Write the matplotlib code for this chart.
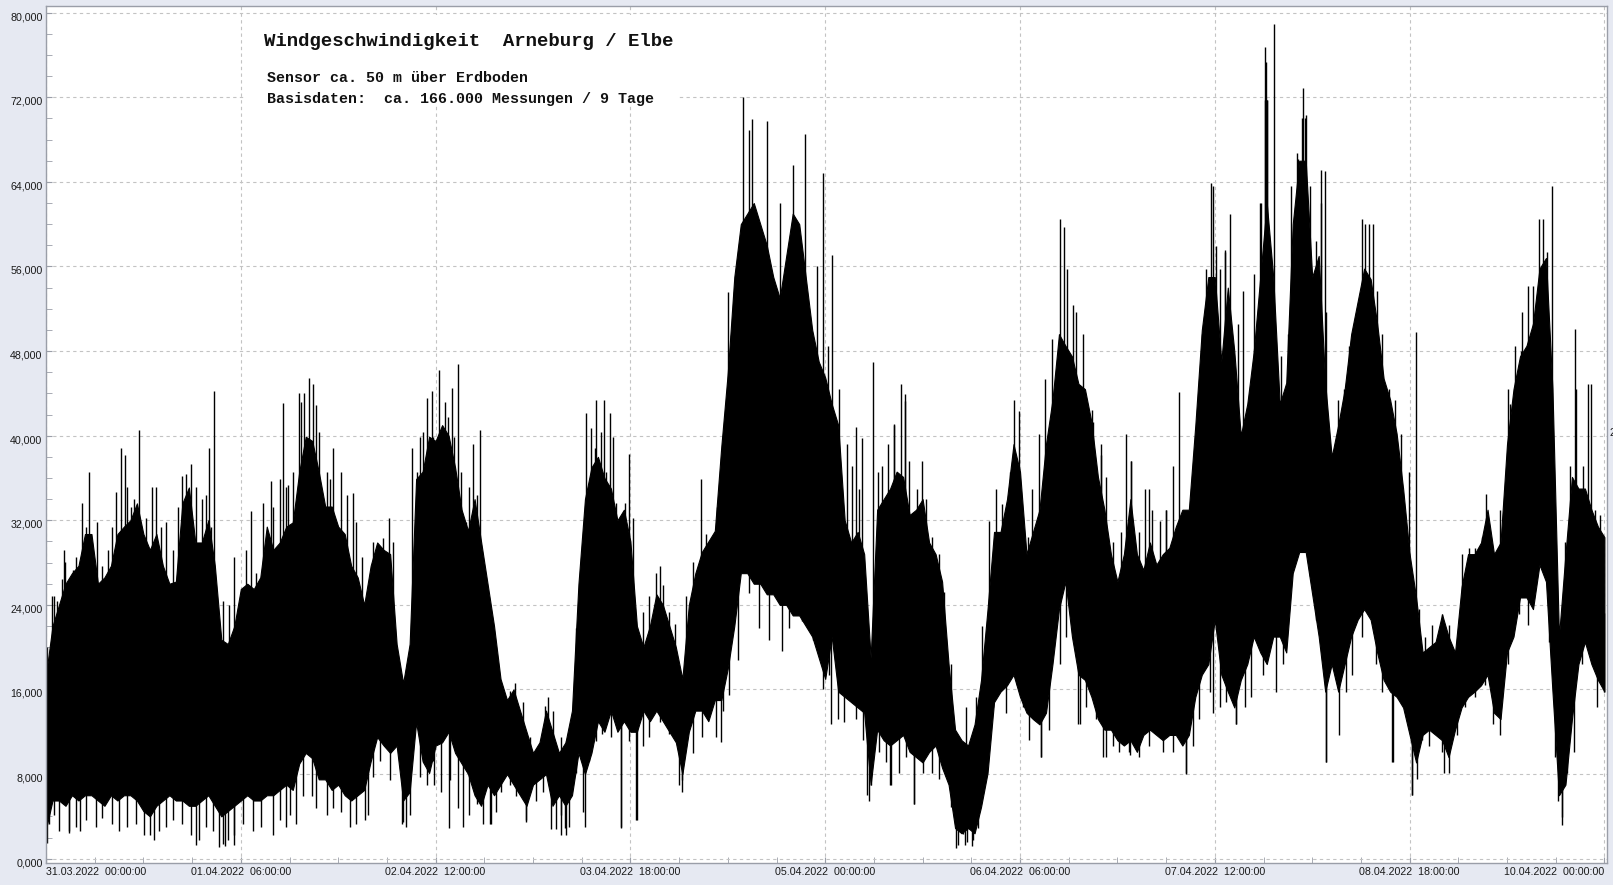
import matplotlib
matplotlib.use("Agg")
import matplotlib.pyplot as plt
import matplotlib.dates as mdates
import matplotlib.ticker as mticker
from matplotlib.patches import Rectangle
from matplotlib.transforms import IdentityTransform, ScaledTranslation
from datetime import datetime, timedelta
import numpy as np

# ---------------- data ----------------
start_time = datetime(2022, 3, 31, 0, 0, 0)
hours = list(range(0, 241))          # hourly envelope samples

# upper edge of the dense black band
top_env = [
    17400, 22000, 24000, 26000, 27000, 27700, 30700, 30700, 26000, 26600, 27700,
    30700, 31400, 32000, 33600, 30700, 29200, 30700, 27700, 26000, 26200,
    33600, 35100, 29900, 29900, 32000, 27700, 20700, 20300, 22000, 25500,
    26000, 25500, 26600, 31400, 29200, 29900, 31400, 31800, 36600, 39900,
    39500, 36600, 33300, 33300, 31400, 30700, 27700, 26600, 24000, 27700,
    29900, 29200, 28800, 20300, 16600, 20300, 35900, 36600, 39900, 39500,
    41000, 40000, 37000, 33000, 31000, 34000, 30000, 26000, 22000, 17000,
    15000, 16000, 14000, 12000, 10000, 11000, 14000, 12000, 10000, 11000,
    14000, 26000, 34000, 37000, 38000, 36000, 35000, 32000, 33000, 30000,
    22000, 20000, 22000, 25000, 24000, 22000, 20000, 17000, 24000, 27000,
    29000, 30000, 31000, 39000, 46000, 55000, 60000, 61000, 62000, 60000,
    58000, 55000, 53000, 57000, 61000, 60000, 55000, 50000, 47000, 45500,
    43000, 41000, 32000, 29900, 30900, 28800, 19000, 33000, 34000, 35000,
    36600, 36100, 32500, 33000, 34000, 29900, 28800, 26200, 18400, 12200,
    11200, 10700, 12700, 16900, 23600, 30900, 30900, 34000, 39200, 36600,
    28800, 30900, 33000, 39200, 43400, 49600, 48500, 47500, 44900, 44400,
    41300, 36100, 33000, 28800, 26200, 28800, 34000, 28800, 27300, 29900,
    27800, 28800, 29400, 31400, 33000, 33000, 41000, 50000, 55000, 55000,
    47000, 54000, 48000, 40000, 43000, 48000, 55000, 62000, 55000, 43000,
    45000, 60000, 66000, 66000, 55000, 57000, 45000, 38000, 41000, 44400,
    49600, 52700, 55800, 54800, 50600, 45400, 43400, 40200, 35000, 28800,
    24700, 19500, 20000, 20500, 23100, 21000, 19500, 25700, 28800, 28800,
    29900, 33000, 28800, 29900, 39200, 44400, 47500, 48500, 50600, 55800,
    56800, 44400, 21000, 28800, 36100, 35000, 35000, 33000, 31400, 30400,
]

# lower edge of the dense black band
bottom_env = [
    2800, 5500, 5500, 5000, 6000, 5500, 6000, 6000, 5500, 5000, 6000,
    5500, 6000, 6000, 5500, 4500, 4000, 5000, 5500, 6000, 5500,
    5500, 5000, 5000, 5500, 6000, 5000, 4000, 4500, 5000, 5500,
    6000, 5500, 5500, 6000, 6000, 6500, 7000, 6500, 9000, 10000,
    9500, 7500, 7500, 6500, 7000, 6000, 5500, 6000, 6500, 9200,
    11500, 10700, 10000, 10700, 5500, 6300, 12900, 9200, 8100, 10700,
    11000, 12000, 10000, 9000, 8000, 6000, 5000, 7000, 6000, 7000,
    8000, 7000, 6000, 5000, 7000, 7500, 8000, 5000, 6000, 5000,
    6000, 10000, 8000, 10000, 13000, 12000, 14000, 12000, 13000, 12000,
    12000, 14000, 13000, 14000, 13000, 12000, 11000, 8000, 12000, 14000,
    14000, 13000, 15000, 15000, 18000, 22000, 27000, 27000, 26000, 26000,
    25000, 25000, 24000, 24000, 23000, 23000, 22000, 21000, 19000, 17000,
    21000, 15800, 15300, 14800, 14300, 13800, 7000, 12200, 11200, 10700,
    11200, 11700, 10100, 9600, 9100, 10100, 10700, 8600, 7000, 2900,
    2400, 2900, 2400, 4900, 8100, 14800, 15800, 16400, 17400, 15300,
    13800, 13200, 12700, 13800, 18400, 23600, 26200, 21000, 17400, 16900,
    15300, 13200, 12200, 12200, 11200, 10700, 11200, 10100, 11700, 12200,
    11700, 11200, 11700, 11700, 10700, 11700, 15300, 17400, 18400, 22600,
    17400, 15800, 14300, 16900, 18400, 21000, 19500, 18400, 21000, 21000,
    19500, 27000, 29000, 29000, 25000, 21000, 15800, 18400, 15800, 18400,
    21000, 22600, 23600, 22600, 19500, 16900, 15800, 15300, 14300, 11700,
    9100, 11700, 12200, 11700, 11200, 9600, 12200, 14300, 15300, 15800,
    16400, 17400, 13800, 13200, 19500, 21000, 24700, 24700, 23600, 27800,
    26200, 15800, 6000, 7000, 13200, 18400, 20500, 18400, 16900, 15800,
]

# tall isolated upward spikes (hour, value)
spike_up_hours = [
    1.25, 2.8, 5.5, 6.6, 11.5, 12.2, 14.3, 16.9, 21.6, 22.3,
    25.1, 25.9, 31.6, 34.6, 36.5, 37.3, 39.0, 39.8, 40.5, 41.1,
    44.2, 47.3, 52.9, 57.6, 58.6, 59.4, 60.6, 62.6, 63.4, 65.7,
    66.8, 77.3, 83.2, 84.7, 86.0, 86.8, 89.8, 94.5, 100.9, 105.0,
    107.4, 108.3, 108.8, 111.0, 113.0, 115.1, 116.9, 118.8, 119.7, 121.0,
    124.7, 125.7, 127.4, 130.6, 131.6, 132.3, 134.9, 144.2, 149.0, 153.9,
    156.1, 156.8, 158.1, 161.1, 162.5, 166.3, 167.1, 169.9, 172.5, 174.5,
    179.4, 179.7, 181.5, 182.4, 187.1, 187.7, 187.9, 188.1, 189.1, 192.6,
    193.6, 196.3, 196.9, 202.7, 203.7, 211.0, 221.7, 225.5, 227.2, 229.0,
    230.0, 231.9, 235.5, 237.9, 187.8, 188.0, 193.4, 193.9,
]
spike_up_values = [
    24800, 29200, 33600, 36600, 38800, 38200, 40500, 35100, 36400, 37300,
    38800, 44200, 32900, 35700, 43100, 35300, 44000, 44000, 45500, 44900,
    38800, 34600, 32200, 39900, 43600, 44200, 46200, 44500, 46800, 39200,
    40500, 15300, 42100, 43400, 43400, 42100, 38300, 27700, 35900, 53600,
    72000, 68900, 69900, 69800, 62000, 65600, 68500, 56000, 64800, 57100,
    40800, 39800, 47000, 41100, 44900, 43300, 37600, 22000, 43400, 45400,
    60500, 59700, 52400, 42400, 39200, 40200, 37600, 35000, 33000, 44100,
    63900, 63600, 57600, 61000, 62000, 76800, 75300, 71700, 78900, 66700,
    72900, 62000, 65000, 60500, 60000, 49800, 34500, 43000, 48000, 54200,
    60500, 63600, 50100, 44900, 71700, 71700, 70000, 70000,
]

# smaller upward spikes along the upper edge
minor_up_hours = [
    0.2, 0.9, 1.7, 2.5, 3.0, 4.1, 4.6, 5.2, 6.1, 7.1,
    7.9, 8.7, 9.5, 10.2, 10.8, 12.4, 13.1, 13.6, 15.4, 16.4,
    17.7, 18.5, 19.5, 20.3, 21.0, 23.1, 24.1, 24.6, 25.4, 27.2,
    28.2, 29.0, 30.8, 32.4, 33.4, 34.9, 36.0, 37.0, 38.0, 39.3,
    41.6, 42.1, 43.2, 43.7, 45.5, 46.3, 47.8, 48.6, 50.4, 51.9,
    53.5, 56.3, 57.1, 58.1, 60.2,
    59.6, 60.1, 61.4, 61.9, 62.9, 63.9, 64.7, 65.2, 66.3, 67.5,
    68.6, 69.6, 71.4, 72.2, 73.4, 74.5, 75.7, 76.8, 78.1, 79.3,
    80.1, 81.6, 82.4, 83.9, 84.5, 85.5, 86.3, 87.3, 87.8, 89.1,
    90.4, 91.9, 92.9, 94.0, 95.0, 96.0, 96.8, 98.6, 99.6, 100.1,
    101.6, 102.7, 103.4, 104.2, 105.5, 106.0,
    120.4, 122.2, 123.4, 124.2, 125.2, 128.1, 128.8, 129.6, 130.6, 132.3,
    132.9, 134.2, 135.5, 136.5, 137.6, 138.3, 139.4, 141.7, 143.2, 145.3,
    146.3, 147.3, 148.4, 149.8, 151.2, 151.9, 153.0, 155.0, 157.3, 158.6,
    159.7, 161.2, 162.5, 163.2, 164.3, 165.6, 167.1, 168.4, 169.2, 170.4,
    171.5, 172.5, 173.5, 175.6, 177.1, 178.1, 178.7, 180.2,
    180.8, 181.5, 183.1, 183.6, 184.3, 185.4, 186.1, 186.9, 189.5, 190.2,
    191.2, 191.8, 192.8, 194.1, 194.6, 195.6, 196.4, 197.1, 198.1, 198.9,
    199.9, 200.7, 201.7, 203.2, 204.3, 205.0, 205.8, 206.8, 207.8, 208.6,
    209.9, 211.4, 212.4, 213.5, 215.0, 216.0, 217.0, 218.1, 219.1, 220.1,
    221.1, 223.2, 223.9, 225.2, 226.2, 227.3, 228.3, 229.8, 230.6, 231.1,
    233.9, 234.7, 235.7, 236.7, 237.5, 238.5, 239.3,
]
minor_up_values = [
    20000, 24800, 24400, 26400, 28100, 27300, 28500, 27000, 31400, 28800,
    31800, 27700, 29200, 31400, 34700, 35100, 33300, 34000, 32200, 35100,
    31400, 31800, 29200, 33300, 36200, 35100, 34000, 34400, 31400, 24400,
    24000, 28500, 29200, 27000, 33600, 33300, 35900, 35100, 36600, 43200,
    42900, 40300, 36600, 35900, 36600, 34400, 31800, 28500, 29900, 30300,
    29900, 38800, 36600, 40300, 39500,
    39900, 37300, 43200, 41800, 39900, 36600, 31800, 35100, 34400, 24800,
    22200, 18100, 15900, 16600, 14800, 11500, 10000, 14400, 14000, 11500,
    11100, 21800, 28100, 40700, 38800, 40300, 36600, 39900, 33600, 33600,
    32200, 23300, 24800, 27000, 25900, 23300, 22200, 24800, 28100, 26200,
    30700, 30300, 33300, 38800, 49500, 53600,
    48500, 44400, 39200, 37100, 35000, 36600, 37100, 39200, 41000, 43900,
    37600, 35000, 34000, 30400, 28800, 25200, 18400, 14300, 15300, 31900,
    35000, 33500, 36600, 42300, 30400, 35000, 40200, 49100, 55800, 51700,
    49600, 41300, 38200, 36100, 29900, 30900, 37600, 30900, 35000, 33000,
    31900, 33000, 37100, 30900, 36600, 49600, 55800, 57900,
    55800, 57400, 44400, 50600, 53700, 44400, 55300, 62000, 47500, 47500,
    49600, 63600, 66200, 70300, 63600, 58400, 65100, 51700, 38200, 43400,
    44400, 48500, 50600, 60000, 60000, 53700, 49600, 44400, 43400, 40200,
    36600, 23600, 21000, 22100, 23100, 22100, 19000, 28800, 29400, 29400,
    30400, 28800, 33000, 44400, 48500, 51700, 54200, 47500, 60500, 57400,
    29900, 37100, 44400, 37100, 44900, 33000, 32500,
]

# deep downward spikes (hour, value)
spike_down_hours = [
    0.1, 3.5, 16.0, 23.1, 26.7, 27.5, 29.0, 37.0, 55.0, 62.1,
    68.4, 73.9, 77.8, 79.3, 80.0, 83.0, 88.6, 91.0, 98.0, 104.0,
    120.9, 126.7, 130.0, 133.6, 140.1, 141.5, 142.6, 153.2, 159.3, 162.8,
    167.0, 175.5, 183.3, 197.1, 207.5, 210.3, 215.3, 233.5,
]
spike_down_values = [
    1500, 2600, 2200, 1300, 1100, 1200, 1300, 3000, 3500, 2900,
    3300, 3500, 2800, 2200, 2900, 3000, 2900, 3700, 7400, 11000,
    12700, 5500, 7000, 5200, 1000, 1300, 1200, 9600, 12700, 9600,
    9800, 8000, 12700, 9100, 9100, 6000, 8100, 3200,
]

# smaller downward spikes along the lower edge
minor_down_hours = [
    0.5, 1.2, 2.0, 3.5, 4.6, 5.3, 6.1, 7.7, 8.7, 10.2,
    11.3, 12.5, 13.8, 15.1, 16.7, 17.4, 18.5, 19.5, 21.0, 22.3,
    23.6, 24.6, 25.7, 27.2, 28.0, 29.0, 30.3, 31.9, 33.1, 34.9,
    36.0, 37.5, 38.5, 39.6, 40.9, 41.6, 43.2, 44.2, 45.5, 46.8,
    47.8, 49.1, 49.6, 50.4, 51.4, 53.0, 54.8, 55.5, 56.0, 57.6,
    58.6, 59.7,
    59.6, 60.9, 62.2, 63.4, 64.2, 65.2, 66.3, 67.3, 68.6, 69.3,
    70.1, 71.4, 72.4, 73.9, 75.5, 76.5, 78.6, 79.3, 80.1, 80.6,
    81.6, 82.7, 83.7, 84.7, 85.7, 87.0, 88.6, 89.8, 90.9, 91.9,
    92.9, 94.5, 96.0, 97.5, 98.0, 99.6, 101.1, 103.2, 104.2, 105.2,
    106.5, 108.3, 109.8, 111.4, 113.4, 114.5, 116.5, 118.1, 119.1, 119.6,
    120.6, 121.9, 122.9, 124.7, 125.8, 126.5, 127.0, 128.3, 129.3, 130.1,
    131.4, 132.4, 133.7, 135.0, 136.4, 137.6, 138.6, 139.4, 140.4, 141.2,
    141.9, 142.7, 143.5, 144.2, 145.0, 145.8, 147.8, 149.6, 150.4, 151.4,
    153.2, 154.5, 156.1, 157.1, 158.9, 160.2, 161.7, 163.2, 164.3, 165.3,
    166.8, 168.4, 169.9, 172.0, 173.5, 175.5, 176.6, 177.6, 179.2,
    179.7, 180.8, 181.8, 183.3, 184.6, 185.6, 187.4, 188.4, 189.5, 190.5,
    191.5, 193.0, 194.6, 195.6, 196.6, 197.1, 198.1, 199.2, 200.2, 201.2,
    202.7, 203.8, 204.8, 205.8, 207.3, 208.4, 209.4, 210.4, 211.2, 211.9,
    213.0, 214.0, 215.0, 216.0, 217.3, 218.6, 220.1, 221.6, 222.9, 223.9,
    225.2, 226.8, 228.3, 229.8, 231.4, 232.4, 232.9, 233.4, 234.2, 235.3,
    236.6, 237.9, 238.9, 239.9,
]
minor_down_values = [
    3300, 4100, 2600, 2400, 3000, 2600, 3700, 3000, 3800, 3300,
    2600, 3000, 3300, 2200, 1800, 2600, 3000, 3700, 3300, 2200,
    1800, 3000, 2600, 1400, 1800, 2200, 3300, 2600, 3000, 2200,
    3700, 4100, 3300, 5900, 5900, 4800, 4100, 4800, 4400, 3000,
    3300, 3700, 4100, 7700, 9200, 7400, 3300, 3000, 4100, 7700,
    7000, 7000,
    9200, 6300, 7400, 4800, 3000, 4100, 5200, 3300, 3300, 4400,
    6300, 7000, 5900, 3700, 5500, 6300, 2800, 4100, 2200, 3000,
    8100, 4400, 9200, 11100, 11800, 11500, 3000, 11100, 3700, 10700,
    11500, 12900, 11800, 7000, 6300, 10000, 11500, 11500, 14000, 15500,
    18800, 25100, 21800, 20700, 19600, 21800, 22500, 20700, 20300, 16000,
    17400, 13200, 12900, 13200, 11200, 6000, 7000, 10100, 9100, 7000,
    8100, 9600, 5200, 8100, 8100, 7500, 8100, 4900, 1300, 2300,
    1600, 1800, 2900, 7000, 11700, 14300, 13800, 16400, 14300, 11200,
    9600, 12200, 18400, 21000, 12700, 14300, 13200, 9600, 10700, 10100,
    10100, 9600, 10700, 10100, 10100, 8100, 10700, 13200, 15800,
    13800, 14300, 14800, 12700, 14300, 15300, 17400, 21000, 15800, 18400,
    23600, 30900, 26700, 22600, 19500, 9100, 18400, 11700, 15800, 17400,
    21000, 24700, 18400, 15800, 9100, 15300, 14300, 6000, 7500, 11200,
    10700, 12200, 10100, 8100, 11700, 14300, 15300, 16400, 12700, 11700,
    18400, 23100, 22100, 27800, 20500, 9600, 5500, 3900, 8100, 10100,
    18400, 20500, 14300, 15800,
]

x_tick_hours = [0, 30, 60, 90, 120, 150, 180, 210, 240]
y_ticks = [0, 8000, 16000, 24000, 32000, 40000, 48000, 56000, 64000, 72000, 80000]

title = "Windgeschwindigkeit  Arneburg / Elbe"
subtitle1 = "Sensor ca. 50 m über Erdboden"
subtitle2 = "Basisdaten:  ca. 166.000 Messungen / 9 Tage"

# ---------------- drawing ----------------
W, H = 1613, 885
fig = plt.figure(figsize=(W / 100, H / 100), dpi=100, facecolor="#e6e9f2")
ax = fig.add_axes([46 / W, (H - 862.7) / H, (1607 - 46) / W, (862.7 - 6) / H])
ax.set_facecolor("white")
ax.set_axisbelow(True)


def to_num(hs):
    return mdates.date2num([start_time + timedelta(hours=float(h)) for h in hs])


xd = to_num(hours)
top_a = np.array(top_env, dtype=float)
bot_a = np.array(bottom_env, dtype=float)
ax.fill_between(xd, bot_a, top_a, color="black", linewidth=0.8, zorder=2)
mid = (top_a + bot_a) / 2

up_h = spike_up_hours + minor_up_hours
up_v = spike_up_values + minor_up_values
ax.vlines(to_num(up_h), np.interp(up_h, hours, mid), up_v,
          color="black", linewidth=1.0, zorder=2)
dn_h = spike_down_hours + minor_down_hours
dn_v = spike_down_values + minor_down_values
ax.vlines(to_num(dn_h), dn_v, np.interp(dn_h, hours, mid),
          color="black", linewidth=1.0, zorder=2)

ax.set_xlim(to_num([0])[0], to_num([240.4])[0])
ax.set_ylim(-380, 80630)

ax.xaxis.set_major_locator(mticker.FixedLocator(to_num(x_tick_hours)))
ax.xaxis.set_minor_locator(mticker.FixedLocator(to_num(np.arange(0, 241, 7.5))))
ax.xaxis.set_major_formatter(mdates.DateFormatter("%d.%m.%Y  %H:%M:%S"))
ax.yaxis.set_major_locator(mticker.FixedLocator(y_ticks))
ax.yaxis.set_minor_locator(mticker.MultipleLocator(2000))
ax.yaxis.set_major_formatter(
    mticker.FuncFormatter(lambda v, p: f"{v / 1000:.3f}".replace(".", ",")))

ax.grid(True, which="major", color="#c3c3c3", linestyle=(0, (3, 3)), linewidth=0.8)
ax.tick_params(which="both", direction="in", length=4, color="#9a9ea8",
               labelsize=7.7, labelcolor="#1a1a1a")
ax.tick_params(axis="x", pad=3)
ax.tick_params(axis="y", pad=2.5)
for lab in ax.get_xticklabels() + ax.get_yticklabels():
    lab.set_fontfamily("Liberation Sans")
for sp in ax.spines.values():
    sp.set_color("#9a9ea8")
    sp.set_linewidth(1.0)

fig.canvas.draw()
xt = ax.xaxis.get_major_ticks()
xt[0].label1.set_horizontalalignment("left")
xt[-1].label1.set_horizontalalignment("right")
off = ScaledTranslation(0, -2.5 / 72, fig.dpi_scale_trans)
for t in ax.yaxis.get_major_ticks():
    t.label1.set_transform(t.label1.get_transform() + off)

# white text box with the titles
ax.add_patch(Rectangle((245, H - 105), 432, 90, transform=IdentityTransform(),
                       facecolor="white", edgecolor="none", zorder=1))
fig.text(264 / W, 1 - 42 / H, title, fontsize=13.7, fontweight="bold",
         family="Liberation Mono", va="center", ha="left", color="#111111")
fig.text(267 / W, 1 - 78 / H, subtitle1, fontsize=10.8, fontweight="bold",
         family="Liberation Mono", va="center", ha="left", color="#111111")
fig.text(267 / W, 1 - 99 / H, subtitle2, fontsize=10.8, fontweight="bold",
         family="Liberation Mono", va="center", ha="left", color="#111111")
fig.text(1609 / W, 1 - 433 / H, "2", fontsize=7.7, family="Liberation Sans",
         va="center", ha="left", color="#1a1a1a")

fig.savefig("out.png", dpi=100, facecolor=fig.get_facecolor())
